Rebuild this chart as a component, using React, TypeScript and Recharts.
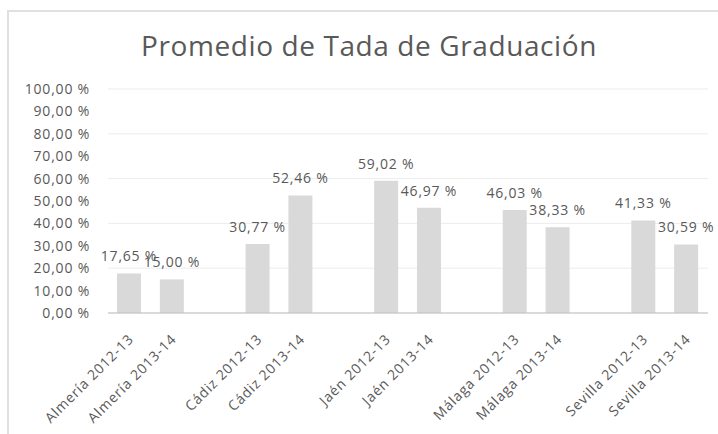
import React from 'react'
import { BarChart, Bar, XAxis, YAxis, CartesianGrid, LabelList } from 'recharts'

// empty strings are the blank slots Excel leaves between provinces
const categories = [
  'Almería 2012-13', 'Almería 2013-14', '',
  'Cádiz 2012-13', 'Cádiz 2013-14', '',
  'Jaén 2012-13', 'Jaén 2013-14', '',
  'Málaga 2012-13', 'Málaga 2013-14', '',
  'Sevilla 2012-13', 'Sevilla 2013-14',
]
const tasa: (number | null)[] = [
  17.65, 15.0, null,
  30.77, 52.46, null,
  59.02, 46.97, null,
  46.03, 38.33, null,
  41.33, 30.59,
]
const yTicks = [0, 10, 20, 30, 40, 50, 60, 70, 80, 90, 100]

const data = categories.map((name, i) => ({ id: i, name, tasa: tasa[i] }))

const GREY = '#595959'
const FONT = '"Open Sans", sans-serif'

const pct = (v: any) => (v == null ? '' : `${Number(v).toFixed(2).replace('.', ',')} %`)

function AngledTick({ x, y, payload }: any) {
  const label = categories[payload.value]
  if (!label) return null
  return (
    <text
      x={x + 5}
      y={y}
      transform={`rotate(-45 ${x + 5} ${y})`}
      textAnchor="end"
      fill={GREY}
      fontSize={14}
      fontFamily={FONT}
      letterSpacing={0.8}
    >
      {label}
    </text>
  )
}

function BarValue({ x, y, width, value }: any) {
  if (value == null) return null
  return (
    <text
      x={Number(x) + Number(width) / 2}
      y={Number(y) - 12}
      textAnchor="middle"
      fill={GREY}
      fontSize={14}
      fontFamily={FONT}
      letterSpacing={0.8}
    >
      {pct(value)}
    </text>
  )
}

export default function App() {
  return (
    <div style={{ position: 'absolute', left: 0, top: 0, width: 718, height: 434, overflow: 'hidden', background: '#fff' }}>
      {/* chart frame, only top and left edges are in view */}
      <div
        style={{
          position: 'absolute', left: 7, top: 10, width: 740, height: 460,
          borderTop: '2px solid #e0e0e0', borderLeft: '2px solid #e0e0e0',
        }}
      />
      <div
        style={{
          position: 'absolute', left: 0, top: 31, width: 738, textAlign: 'center',
          fontFamily: FONT, fontSize: 28, lineHeight: '28px', letterSpacing: 0.6, color: GREY,
        }}
      >
        Promedio de Tada de Graduación
      </div>
      <div style={{ position: 'absolute', left: 0, top: 0 }}>
        <BarChart width={718} height={434} data={data} margin={{ top: 89, right: 10, bottom: 0, left: 0 }}>
          <CartesianGrid vertical={false} stroke="#ececec" />
          <XAxis
            dataKey="id"
            interval={0}
            height={121}
            tickSize={0}
            tickMargin={27}
            axisLine={{ stroke: '#bfbfbf' }}
            tickLine={false}
            tick={<AngledTick />}
          />
          <YAxis
            domain={[0, 100]}
            ticks={yTicks}
            width={108}
            tickSize={0}
            tickMargin={18}
            axisLine={false}
            tickLine={false}
            tickFormatter={pct}
            tick={{ fill: GREY, fontSize: 14, fontFamily: FONT, letterSpacing: 0.8 }}
          />
          <Bar dataKey="tasa" fill="#d9d9d9" barSize={24} isAnimationActive={false}>
            <LabelList dataKey="tasa" content={<BarValue />} />
          </Bar>
        </BarChart>
      </div>
    </div>
  )
}
